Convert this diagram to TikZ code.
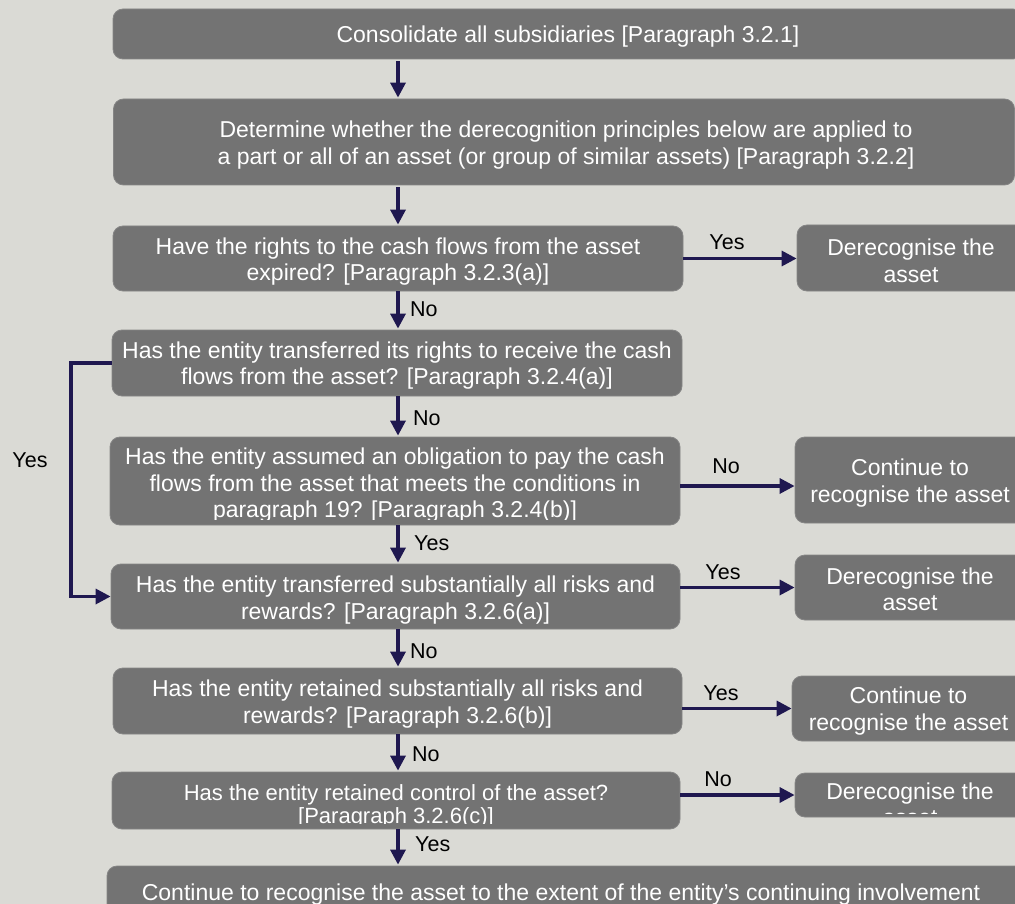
\documentclass[tikz,border=0pt]{standalone}
\usepackage{fontspec}
\setmainfont{Liberation Sans}
\usetikzlibrary{arrows.meta}
\definecolor{bgc}{HTML}{DADAD5}
\definecolor{boxc}{HTML}{737373}
\definecolor{boxedge}{HTML}{858585}
\definecolor{arrc}{HTML}{1F1850}
\begin{document}
\begin{tikzpicture}[x=1pt,y=-1pt,
  box/.style={fill=boxc, draw=boxedge, line width=0.8pt, rounded corners=10pt, inner sep=0pt},
  txt/.style={text=white, font=\fontsize{23}{26.5}\selectfont, align=center, inner sep=0pt},
  arr/.style={draw=arrc, line width=3.3pt, -{Triangle[length=15pt,width=15pt]}},
  lbl/.style={font=\fontsize{21.5}{24}\selectfont, text=black, inner sep=0pt}]
\fill[bgc] (0,0) rectangle (1015,904);
\useasboundingbox (0,0) rectangle (1015,904);
\clip (0,0) rectangle (1015,904);
\coordinate (spine) at (398,0);

% main column
\node[box, minimum width=910pt, minimum height=50pt] (b1) at (568,34) {};
\node[txt] (b1t) at (568,37) {Consolidate all subsidiaries [Paragraph 3.2.1]};
\node[box, minimum width=901pt, minimum height=86pt] (b2) at (564,142) {};
\node[txt] (b2t) at (566,145) {Determine whether the derecognition principles below are applied to\\a part or all of an asset (or group of similar assets) [Paragraph 3.2.2]};
\node[box, minimum width=570pt, minimum height=65pt] (b3) at (398,258.5) {};
\node[txt] (b3t) at (398,261.5) {Have the rights to the cash flows from the asset\\expired? [Paragraph 3.2.3(a)]};
\node[box, minimum width=570pt, minimum height=66pt] (b4) at (397,363) {};
\node[txt] (b4t) at (397,365.5) {Has the entity transferred its rights to receive the cash\\flows from the asset? [Paragraph 3.2.4(a)]};
\node[box, minimum width=570pt, minimum height=88pt] (b5) at (395,481) {};
\begin{scope}
  \clip (b5.north west) rectangle ([yshift=6pt]b5.south east);
  \node[txt] (b5t) at (395,485.5) {Has the entity assumed an obligation to pay the cash\\flows from the asset that meets the conditions in\\paragraph 19? [Paragraph 3.2.4(b)]};
\end{scope}
\node[box, minimum width=569pt, minimum height=65pt] (b6) at (395.5,596.5) {};
\node[txt] (b6t) at (395.5,600) {Has the entity transferred substantially all risks and\\rewards? [Paragraph 3.2.6(a)]};
\node[box, minimum width=569pt, minimum height=66pt] (b7) at (397.5,701) {};
\node[txt] (b7t) at (397.5,704) {Has the entity retained substantially all risks and\\rewards? [Paragraph 3.2.6(b)]};
\node[box, minimum width=568pt, minimum height=57pt] (b8) at (396,800.5) {};
\begin{scope}
  \clip (b8.north west) rectangle ([yshift=6pt]b8.south east);
  \node[txt, font=\fontsize{22}{23.5}\selectfont] (b8t) at (396,806.5) {Has the entity retained control of the asset?\\{[}Paragraph 3.2.6(c)]};
\end{scope}
\node[box, minimum width=918pt, minimum height=68pt] (b9) at (566,900) {};
\node[txt] (b9t) at (561,895) {Continue to recognise the asset to the extent of the entity’s continuing involvement};

% right column
\node[box, minimum width=228pt, minimum height=66pt] (r3) at (911,258) {};
\node[txt] (r3t) at (911,261) {Derecognise the\\asset};
\node[box, minimum width=230pt, minimum height=86pt] (r5) at (910,480) {};
\node[txt] (r5t) at (910,483) {Continue to\\recognise the asset};
\node[box, minimum width=230pt, minimum height=65pt] (r6) at (910,587.5) {};
\node[txt] (r6t) at (910,589.5) {Derecognise the\\asset};
\node[box, minimum width=233pt, minimum height=65pt] (r7) at (908.5,708.5) {};
\node[txt] (r7t) at (908.5,711) {Continue to\\recognise the asset};
\node[box, minimum width=230pt, minimum height=44pt] (r8) at (910,795) {};
\begin{scope}
  \clip (r8.north west) rectangle ([yshift=4pt]r8.south east);
  \node[txt] (r8t) at (910,804.5) {Derecognise the\\asset};
\end{scope}

% vertical connectors
\draw[arr, shorten <=2pt, shorten >=1pt] (b1.south -| spine) -- (b2.north -| spine);
\draw[arr, shorten <=2pt, shorten >=1pt] (b2.south -| spine) -- (b3.north -| spine);
\draw[arr, shorten >=1pt] (b3.south -| spine) -- (b4.north -| spine);
\draw[arr, shorten >=1pt] (b4.south -| spine) -- (b5.north -| spine);
\draw[arr, shorten >=1pt] (b5.south -| spine) -- (b6.north -| spine);
\draw[arr, shorten >=1pt] (b6.south -| spine) -- (b7.north -| spine);
\draw[arr, shorten >=1pt] (b7.south -| spine) -- (b8.north -| spine);
\draw[arr, shorten >=1pt] (b8.south -| spine) -- (b9.north -| spine);

% horizontal connectors
\draw[arr] (b3.east) -- (b3.east -| r3.west);
\draw[arr] ([yshift=-5pt]b5.east) -- ([yshift=-5pt]b5.east -| r5.west);
\draw[arr] (b6.east |- r6.west) -- (r6.west);
\draw[arr] (b7.east |- r7.west) -- (r7.west);
\draw[arr] (b8.east |- r8.west) -- (r8.west);

% loop
\coordinate (loopx) at (71,0);
\draw[arr] (b4.west) -- (b4.west -| loopx) |- (b6.west);

% labels
\node[lbl, anchor=west] (l1) at (410,309) {No};
\node[lbl, anchor=west] (l2) at (413,418) {No};
\node[lbl, anchor=west] (l3) at (414,543) {Yes};
\node[lbl, anchor=west] (l4) at (410,651) {No};
\node[lbl, anchor=west] (l5) at (412,754) {No};
\node[lbl, anchor=west] (l6) at (415,844) {Yes};
\node[lbl] (h1) at (727,242) {Yes};
\node[lbl] (h2) at (726,466) {No};
\node[lbl] (h3) at (723,572) {Yes};
\node[lbl] (h4) at (721,693) {Yes};
\node[lbl] (h5) at (718,779) {No};
\node[lbl] (ly) at (30,460) {Yes};
\end{tikzpicture}
\end{document}
